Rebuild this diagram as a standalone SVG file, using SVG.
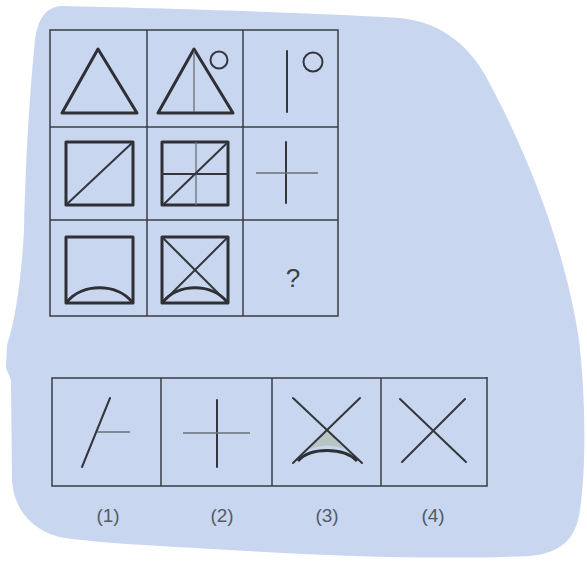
<svg xmlns="http://www.w3.org/2000/svg" width="587" height="563" viewBox="0 0 587 563">
<style>
.grid{fill:none;stroke:#3a3d44;stroke-width:1.5}
.thick{fill:none;stroke:#2e3036;stroke-width:3;stroke-linejoin:round}
.med{fill:none;stroke:#33363c;stroke-width:2;stroke-linecap:round}
.thin{fill:none;stroke:#6a6e78;stroke-width:1.3}
.lab{font-family:"Liberation Sans",Arial,sans-serif;font-size:19px;fill:#555a63;text-anchor:middle}
</style>
<rect width="587" height="563" fill="#ffffff"/>
<path id="paper" d="M60,6 C150,8 300,12 400,18 C440,22 472,45 492,88 C525,150 565,245 579,340 C586,400 586,470 580,510 C576,540 560,553 530,556 C440,560 330,556 230,550 C160,546 100,543 65,538 C35,533 14,512 12,480 L11,380 L6,368 L7,345 C16,320 22,270 24,230 C26,150 30,90 35,40 C38,18 46,8 60,6 Z" fill="#c8d7ef"/>

<g id="matrix">
  <rect class="grid" x="50" y="30" width="288" height="286"/>
  <line class="grid" x1="147" y1="30" x2="147" y2="316"/>
  <line class="grid" x1="243" y1="30" x2="243" y2="316"/>
  <line class="grid" x1="50" y1="127" x2="338" y2="127"/>
  <line class="grid" x1="50" y1="220" x2="338" y2="220"/>
</g>

<g id="cell-1-1">
  <polygon class="thick" points="98,49 62,113 137,113"/>
</g>
<g id="cell-1-2">
  <polygon class="thick" points="194,49 158,113 233,113"/>
  <line class="thin" x1="194" y1="51" x2="194" y2="112"/>
  <circle class="med" cx="219" cy="60" r="8.5"/>
</g>
<g id="cell-1-3">
  <line class="med" x1="287" y1="51" x2="287" y2="112"/>
  <circle class="med" cx="313" cy="62" r="9.5"/>
</g>

<g id="cell-2-1">
  <rect class="thick" x="66" y="142" width="67" height="63"/>
  <line class="med" x1="67" y1="204" x2="132" y2="143"/>
</g>
<g id="cell-2-2">
  <rect class="thick" x="162" y="142" width="66" height="63"/>
  <line class="med" x1="162" y1="174" x2="228" y2="174"/>
  <line class="thin" x1="196" y1="142" x2="196" y2="205"/>
  <line class="med" x1="164" y1="204" x2="226" y2="144"/>
</g>
<g id="cell-2-3">
  <line class="med" x1="286" y1="142" x2="286" y2="203"/>
  <line class="thin" x1="256" y1="173" x2="318" y2="173"/>
</g>

<g id="cell-3-1">
  <rect class="thick" x="66" y="237" width="67" height="66"/>
  <path class="thick" d="M67,302 C82,283 117,283 132,302"/>
</g>
<g id="cell-3-2">
  <rect class="thick" x="162" y="237" width="66" height="66"/>
  <line class="med" x1="163" y1="238" x2="227" y2="302"/>
  <line class="med" x1="227" y1="238" x2="163" y2="302"/>
  <path class="thick" d="M163,302 C178,283 212,283 227,302"/>
</g>
<g id="cell-3-3">
  <text x="293" y="287" font-family="Liberation Sans, Arial, sans-serif" font-size="26" fill="#3c3f46" text-anchor="middle">?</text>
</g>

<g id="options">
  <polyline class="grid" points="487,377 487,486 52,486 52,378 487,378"/>
  <line class="grid" x1="161" y1="378" x2="161" y2="486"/>
  <line class="grid" x1="272" y1="378" x2="272" y2="486"/>
  <line class="grid" x1="381" y1="378" x2="381" y2="486"/>
</g>

<g id="option-1">
  <line class="med" x1="110" y1="398" x2="82" y2="467"/>
  <line class="thin" x1="97" y1="432" x2="130" y2="432"/>
</g>
<g id="option-2">
  <line class="med" x1="217" y1="400" x2="217" y2="467"/>
  <line class="thin" x1="183" y1="433" x2="250" y2="433"/>
</g>
<g id="option-3">
  <path d="M327,430 L310,449 Q327,442 344,449 Z" fill="#b7c6c0"/>
  <line class="med" x1="293" y1="398" x2="362" y2="463"/>
  <line class="med" x1="360" y1="398" x2="293" y2="463"/>
  <path class="thick" d="M298,461 C310,447 344,447 357,461"/>
</g>
<g id="option-4">
  <line class="med" x1="400" y1="399" x2="466" y2="462"/>
  <line class="med" x1="465" y1="399" x2="402" y2="462"/>
</g>

<g id="labels">
  <text class="lab" x="108" y="522">(1)</text>
  <text class="lab" x="222" y="522">(2)</text>
  <text class="lab" x="327" y="522">(3)</text>
  <text class="lab" x="433" y="522">(4)</text>
</g>
</svg>
